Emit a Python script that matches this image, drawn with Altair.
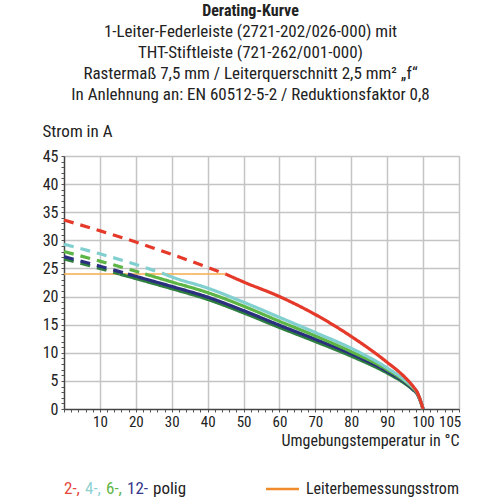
import altair as alt
import pandas as pd

# ---------------- data ----------------
temps = [0, 10, 20, 30, 40, 50, 60, 70, 80, 90, 95, 97, 98.5, 100]
i_2pol = [33.6, 31.7, 29.7, 27.5, 25.2, 22.6, 20.0, 16.8, 12.9, 8.3, 5.6, 4.2, 2.8, 0]
i_4pol = [29.3, 27.6, 25.7, 23.5, 21.5, 19.0, 16.3, 13.6, 10.8, 7.3, 5.1, 4.0, 2.8, 0]
i_6pol = [28.0, 26.3, 24.5, 22.6, 20.7, 18.3, 15.6, 13.0, 10.2, 7.0, 4.9, 3.8, 2.7, 0]
i_8pol = [26.7, 25.0, 23.2, 21.4, 19.5, 17.1, 14.5, 12.0, 9.4, 6.4, 4.5, 3.5, 2.5, 0]
i_12pol = [27.1, 25.4, 23.6, 21.8, 19.9, 17.5, 14.9, 12.4, 9.8, 6.7, 4.7, 3.6, 2.6, 0]

# temperature where each curve meets the rated current (dashed -> solid)
cross_2, cross_4, cross_6, cross_8, cross_12 = 45, 28, 22.6, 15.5, 17.8

rated_current = 24
rated_until = 45

series_names = ["8-polig", "12-polig", "6-polig", "4-polig", "2-polig"]   # draw order
series_values = [i_8pol, i_12pol, i_6pol, i_4pol, i_2pol]
series_cross = [cross_8, cross_12, cross_6, cross_4, cross_2]
series_colors = ["#2f7f3e", "#2b2f7f", "#5db546", "#82cfd0", "#e5392a"]

x_tick_values = list(range(0, 111, 2))
y_tick_values = list(range(0, 46))

title_lines = [
    "1-Leiter-Federleiste (2721-202/026-000) mit",
    "THT-Stiftleiste (721-262/001-000)",
    "Rastermaß 7,5 mm / Leiterquerschnitt 2,5 mm² „f“",
    "In Anlehnung an: EN 60512-5-2 / Reduktionsfaktor 0,8",
]

legend_parts = ["2-,", "4-,", "6-,", "12-", "polig"]
legend_colors = ["#e5473a", "#8fd1d1", "#5fb548", "#34378a", "#222222"]
legend_x = [0, 21, 42, 63, 89]

FONT = "Liberation Sans Narrow, Roboto Condensed, DejaVu Sans Condensed, sans-serif"

# ---------------- build tables ----------------
rows = []
for name, vals, cr in zip(series_names, series_values, series_cross):
    for t, v in zip(temps, vals):
        if t < cr:
            rows.append({"T": t, "I": v, "series": name, "seg": "dashed"})
        elif t > cr:
            rows.append({"T": t, "I": v, "series": name, "seg": "solid"})
    rows.append({"T": cr, "I": rated_current, "series": name, "seg": "dashed"})
    rows.append({"T": cr, "I": rated_current, "series": name, "seg": "solid"})
df = pd.DataFrame(rows)

rated_df = pd.DataFrame({"T": [0], "T1": [rated_until], "I": [rated_current]})

x_axis = alt.Axis(
    values=x_tick_values,
    labelExpr="(datum.value % 10 == 0 && datum.value > 0 && datum.value < 110) ? datum.label : (datum.value == 106 ? '105' : '')",
    labelOffset={"condition": {"test": "datum.value == 106", "value": 5}, "value": 0},
    gridOpacity={"condition": {"test": "datum.value % 10 == 0 && datum.value > 0", "value": 1}, "value": 0},
    gridColor="#c4c4c4", gridWidth=1.5,
    tickSize=3, tickColor="#555555", tickWidth=1,
    domainColor="#444444", domainWidth=1.5,
    labelFont=FONT, labelFontSize=15, labelColor="#222222", labelPadding=2,
    labelOverlap=False, labelFlush=False,
    title="Umgebungstemperatur in °C",
    titleFont=FONT, titleFontSize=16, titleFontWeight="normal", titleColor="#222222",
    titleAnchor="end", titleAlign="right", titleX=395, titleY=36, titleBaseline="alphabetic",
)
y_axis = alt.Axis(
    values=y_tick_values,
    labelExpr="datum.value % 5 == 0 ? datum.label : ''",
    gridOpacity={"condition": {"test": "datum.value % 5 == 0 && datum.value > 0", "value": 1}, "value": 0},
    gridColor="#c4c4c4", gridWidth=1.5,
    tickSize=3, tickColor="#555555", tickWidth=1,
    domainColor="#444444", domainWidth=1.5,
    labelFont=FONT, labelFontSize=16, labelColor="#222222", labelPadding=3,
    labelOverlap=False, labelFlush=False,
    title="Strom in A",
    titleFont=FONT, titleFontSize=17, titleFontWeight="normal", titleColor="#222222",
    titleAngle=0, titleAlign="left", titleX=-22, titleY=-20, titleBaseline="alphabetic",
)

x_scale = alt.Scale(domain=[0, 110], nice=False)
y_scale = alt.Scale(domain=[0, 45], nice=False)

X = alt.X("T:Q", scale=x_scale, axis=x_axis)
Y = alt.Y("I:Q", scale=y_scale, axis=y_axis)

rated_layer = alt.Chart(rated_df).mark_rule(color="#f6ad4a", strokeWidth=1.6).encode(
    x=X, x2="T1:Q", y=Y,
)

layers = [rated_layer]
for name, col in zip(series_names, series_colors):
    layers.append(
        alt.Chart(df[df["series"] == name]).mark_line(
            color=col, strokeWidth=3.2, interpolate="monotone"
        ).encode(
            x=X,
            y=Y,
            strokeDash=alt.StrokeDash(
                "seg:N",
                scale=alt.Scale(domain=["solid", "dashed"], range=[[1, 0], [10, 7]]),
                legend=None,
            ),
            detail="seg:N",
        )
    )

legend_src = pd.DataFrame({"k": [0]})
for part, col, lx in zip(legend_parts, legend_colors, legend_x):
    layers.append(
        alt.Chart(legend_src).mark_text(
            text=part, color=col, font=FONT, fontSize=17, align="left", baseline="alphabetic"
        ).encode(x=alt.value(lx), y=alt.value(338))
    )
layers.append(
    alt.Chart(legend_src).mark_rule(color="#f08a2a", strokeWidth=2.5).encode(
        x=alt.value(202), x2=alt.value(235), y=alt.value(333)
    )
)
layers.append(
    alt.Chart(legend_src).mark_text(
        text="Leiterbemessungsstrom", color="#222222", font=FONT, fontSize=16,
        align="left", baseline="alphabetic"
    ).encode(x=alt.value(242), y=alt.value(338))
)

chart = alt.layer(*layers).properties(
    width=395,
    height=253,
    autosize=alt.AutoSizeParams(type="none"),
    padding={"left": 64, "top": 156, "right": 41, "bottom": 91},
    title=alt.TitleParams(
        text="Derating-Kurve",
        subtitle=title_lines,
        anchor="middle", frame="group", dx=-11, offset=19,
        font=FONT, fontSize=16, fontWeight="bold", color="#222222",
        subtitleFont=FONT, subtitleFontSize=17, subtitleColor="#222222",
        subtitleLineHeight=21, subtitlePadding=5,
    ),
).configure_view(stroke=None).configure(background="white")

chart.save("out.html", embed_options={"renderer": "svg", "actions": False})
